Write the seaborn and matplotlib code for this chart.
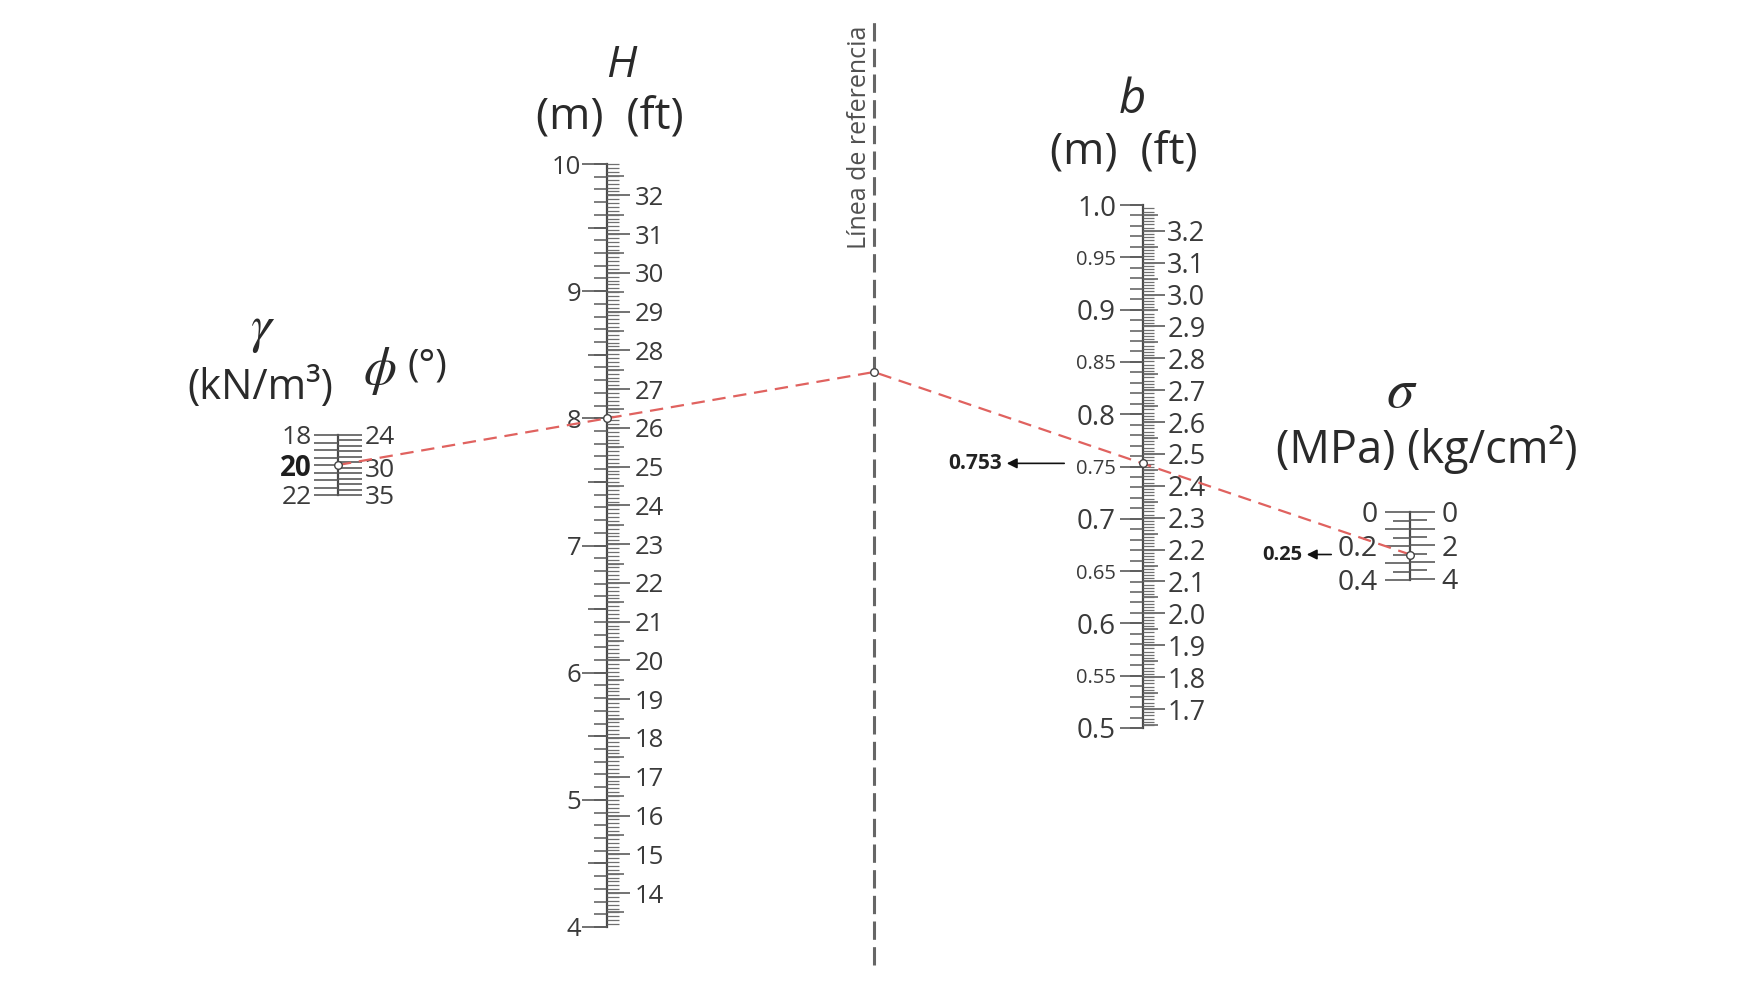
import numpy as np
import pandas as pd
import matplotlib
matplotlib.use('Agg')
import matplotlib.pyplot as plt
import seaborn as sns

sns.set_theme(style='white')
plt.rcParams['font.family'] = ['Open Sans', 'DejaVu Sans']
plt.rcParams['mathtext.fontset'] = 'stix'

# --- valores de las escalas ---
gamma_ticks = [18, 18.5, 19, 19.5, 20, 20.5, 21, 21.5, 22]
gamma_labels = ['18', '', '', '', '20', '', '', '', '22']
phi_ticks = [24, 25, 26, 27, 28, 29, 30, 31, 32, 33, 34, 35]
phi_labels = ['24', '', '', '', '', '', '30', '', '', '', '', '35']

H_m_ticks = [4, 5, 6, 7, 8, 9, 10]
H_ft_ticks = [14, 15, 16, 17, 18, 19, 20, 21, 22, 23, 24, 25, 26, 27, 28, 29, 30, 31, 32]

b_m_ticks = [0.5, 0.55, 0.6, 0.65, 0.7, 0.75, 0.8, 0.85, 0.9, 0.95, 1.0]
b_m_labels = ['0.5', '0.55', '0.6', '0.65', '0.7', '0.75', '0.8', '0.85', '0.9', '0.95', '1.0']
b_ft_ticks = [1.7, 1.8, 1.9, 2.0, 2.1, 2.2, 2.3, 2.4, 2.5, 2.6, 2.7, 2.8, 2.9, 3.0, 3.1, 3.2]

sig_mpa_ticks = [0, 0.1, 0.2, 0.3, 0.4]
sig_mpa_labels = ['0', '', '0.2', '', '0.4']
sig_kg_ticks = [0, 1, 2, 3, 4]
sig_kg_labels = ['0', '', '2', '', '4']

# ejemplo resuelto
gamma_val = 20
H_val = 8
b_val = 0.753
sigma_val = 0.25

FT = 0.3048
KG = 0.0980665

W, Hpx = 1750, 1000
PT = 0.72  # px -> pt a 100 dpi
TICK_C = '#5a5a5a'
LABEL_C = '#3a3a3a'
SPINE_C = '#4a4a4a'

fig = plt.figure(figsize=(17.5, 10), dpi=100)
fig.patch.set_facecolor('white')

ax0 = fig.add_axes([0, 0, 1, 1])
ax0.set_xlim(0, W)
ax0.set_ylim(Hpx, 0)
ax0.axis('off')
ax0.set_zorder(5)


def scale_base(x, y_top, y_bot):
    ax = fig.add_axes([x / W, 1 - y_bot / Hpx, 1e-4, (y_bot - y_top) / Hpx])
    ax.patch.set_alpha(0)
    for s in ['top', 'bottom', 'right']:
        ax.spines[s].set_visible(False)
    ax.spines['left'].set_color(SPINE_C)
    ax.spines['left'].set_linewidth(1.6)
    ax.set_xticks([])
    ax.set_yticks([])
    return ax


def tick_layer(base, lim, side, pos, length, labels=None, size=19, width=1.2,
               color=TICK_C, pad=2):
    t = base.twinx()
    t.patch.set_alpha(0)
    t.set_ylim(*lim)
    for s in t.spines.values():
        s.set_visible(False)
    t.yaxis.set_ticks_position(side)
    t.yaxis.set_label_position(side)
    pos = [p for p in pos if min(lim) - 1e-9 <= p <= max(lim) + 1e-9]
    t.set_yticks(pos)
    if labels is None:
        t.tick_params(axis='y', labelleft=False, labelright=False)
    else:
        t.set_yticklabels(labels)
    t.tick_params(axis='y', which='major', direction='out', length=length * PT,
                  width=width, color=color, labelsize=size, labelcolor=LABEL_C,
                  pad=pad * PT)
    t.set_xticks([])
    return t


# --- escala gamma / phi ---
g_base = scale_base(338, 435, 495)
g_lay = tick_layer(g_base, (22, 18), 'left', gamma_ticks, 24, gamma_labels, size=19, pad=2)
for lbl, v in zip(g_lay.get_yticklabels(), gamma_ticks):
    if v == gamma_val:
        lbl.set_fontweight('bold')
        lbl.set_color('#1e1e1e')
        lbl.set_fontsize(20)
p_lay = tick_layer(g_base, (35, 24), 'right', phi_ticks, 24, phi_labels, size=19, pad=3)

# --- escala H ---
H_lim = (4, 10)
H_ft_lim = (4 / FT, 10 / FT)
h_base = scale_base(607, 164, 927)
h_lay = tick_layer(h_base, H_lim, 'left', H_m_ticks, 25, [str(v) for v in H_m_ticks], size=18.5, pad=1)
tick_layer(h_base, H_lim, 'left', np.arange(4.5, 10, 1.0), 19)
tick_layer(h_base, H_lim, 'left', np.arange(4, 10.001, 0.1), 13, width=1.1)
tick_layer(h_base, H_ft_lim, 'right', H_ft_ticks, 23, [str(v) for v in H_ft_ticks], size=18.5, pad=5)
tick_layer(h_base, H_ft_lim, 'right', np.arange(13.5, 33, 1.0), 17, width=1.1)
tick_layer(h_base, H_ft_lim, 'right', np.arange(13.2, 32.85, 0.1), 12, width=0.9, color='#707070')

# --- escala b ---
b_lim = (0.5, 1.0)
b_ft_lim = (0.5 / FT, 1.0 / FT)
b_base = scale_base(1143, 205, 728)
b_lay = tick_layer(b_base, b_lim, 'left', b_m_ticks, 23, b_m_labels, size=20, pad=4)
for lbl, v in zip(b_lay.get_yticklabels(), b_m_ticks):
    if round(v * 100) % 10 != 0:
        lbl.set_fontsize(14.5)
tick_layer(b_base, b_lim, 'left', np.arange(0.5, 1.0001, 0.01), 13, width=1.1)
tick_layer(b_base, b_ft_lim, 'right', b_ft_ticks, 22, [f'{v:.1f}' for v in b_ft_ticks], size=19.5, pad=2)
tick_layer(b_base, b_ft_lim, 'right', np.arange(1.65, 3.28, 0.1), 15, width=1.1)
tick_layer(b_base, b_ft_lim, 'right', np.arange(1.65, 3.28, 0.01), 11, width=0.9, color='#707070')

# --- escala sigma ---
s_lim = (0.4, 0)
s_kg_lim = (0.4 / KG, 0)
s_base = scale_base(1410, 512, 580)
s_lay = tick_layer(s_base, s_lim, 'left', sig_mpa_ticks, 25, sig_mpa_labels, size=20.5, pad=7)
tick_layer(s_base, s_lim, 'left', [0.05, 0.15, 0.25, 0.35], 17)
tick_layer(s_base, s_kg_lim, 'right', sig_kg_ticks, 25, sig_kg_labels, size=20.5, pad=6)
tick_layer(s_base, s_kg_lim, 'right', [0.5, 1.5, 2.5, 3.5], 17)


def to_px(ax, v):
    d = ax.transData.transform((0, v))
    return ax0.transData.inverted().transform(d)


# --- linea de referencia ---
REF_X = 874
ax0.axvline(REF_X, ymin=1 - 965 / Hpx, ymax=1 - 22 / Hpx, color='#666666',
            lw=2.2, linestyle=(0, (6, 2.4)), zorder=1)
ax0.text(REF_X - 15, 137, 'Línea de referencia', rotation=90, ha='center', va='center',
         fontsize=18, color='#505050')

# --- solucion del ejemplo ---
g_pt = to_px(g_lay, gamma_val)
h_pt = to_px(h_lay, H_val)
b_pt = to_px(b_lay, b_val)
s_pt = to_px(s_lay, sigma_val)
slope = (h_pt[1] - g_pt[1]) / (h_pt[0] - g_pt[0])
ref_pt = np.array([REF_X, g_pt[1] + slope * (REF_X - g_pt[0])])

path = pd.DataFrame({'x': [g_pt[0], ref_pt[0], s_pt[0]],
                     'y': [g_pt[1], ref_pt[1], s_pt[1]]})
sns.lineplot(data=path, x='x', y='y', sort=False, estimator=None, ax=ax0,
             color='#e0625f', lw=1.6, linestyle=(0, (6, 3.5)), zorder=3)
pts = pd.DataFrame({'x': [g_pt[0], h_pt[0], ref_pt[0], b_pt[0], s_pt[0]],
                    'y': [g_pt[1], h_pt[1], ref_pt[1], b_pt[1], s_pt[1]]})
sns.scatterplot(data=pts, x='x', y='y', ax=ax0, marker='o', s=30,
                facecolor='white', edgecolor='#444444', linewidth=1.0, zorder=4)
ax0.set_xlim(0, W)
ax0.set_ylim(Hpx, 0)
ax0.axis('off')

# flechas con los resultados
ax0.annotate('', xy=(1004, b_pt[1]), xytext=(1067, b_pt[1]),
             arrowprops=dict(arrowstyle='-|>', color='#111111', lw=1.2, mutation_scale=15))
ax0.text(1002, b_pt[1], f'{b_val:.3f}', ha='right', va='center', fontsize=15,
         fontweight='bold', color='#222222')
ax0.annotate('', xy=(1304, s_pt[1]), xytext=(1334, s_pt[1]),
             arrowprops=dict(arrowstyle='-|>', color='#111111', lw=1.2, mutation_scale=15))
ax0.text(1302, s_pt[1], f'{sigma_val:.2f}', ha='right', va='center', fontsize=14.5,
         fontweight='bold', color='#222222')

# --- titulos de las escalas ---
TC = '#2a2a2a'
ax0.text(263, 328, r'$\gamma$', ha='center', va='center', fontsize=38, color=TC)
ax0.text(260, 388, '(kN/m³)', ha='center', va='center', fontsize=30, color=TC)
ax0.text(380, 370, r'$\phi$', ha='center', va='center', fontsize=38, color=TC)
ax0.text(427, 366, '(°)', ha='center', va='center', fontsize=28, color=TC)

ax0.text(621, 66, 'H', ha='center', va='center', fontsize=32, fontstyle='italic', color=TC)
ax0.text(610, 118, '(m)  (ft)', ha='center', va='center', fontsize=32, color=TC)

ax0.text(1132, 100, 'b', ha='center', va='center', fontsize=34, fontstyle='italic', color=TC)
ax0.text(1124, 153, '(m)  (ft)', ha='center', va='center', fontsize=32, color=TC)

ax0.text(1402, 393, r'$\sigma$', ha='center', va='center', fontsize=40, color=TC)
ax0.text(1427, 449, '(MPa) (kg/cm²)', ha='center', va='center', fontsize=32.5, color=TC)

fig.savefig('out.png', dpi=100, facecolor='white')
